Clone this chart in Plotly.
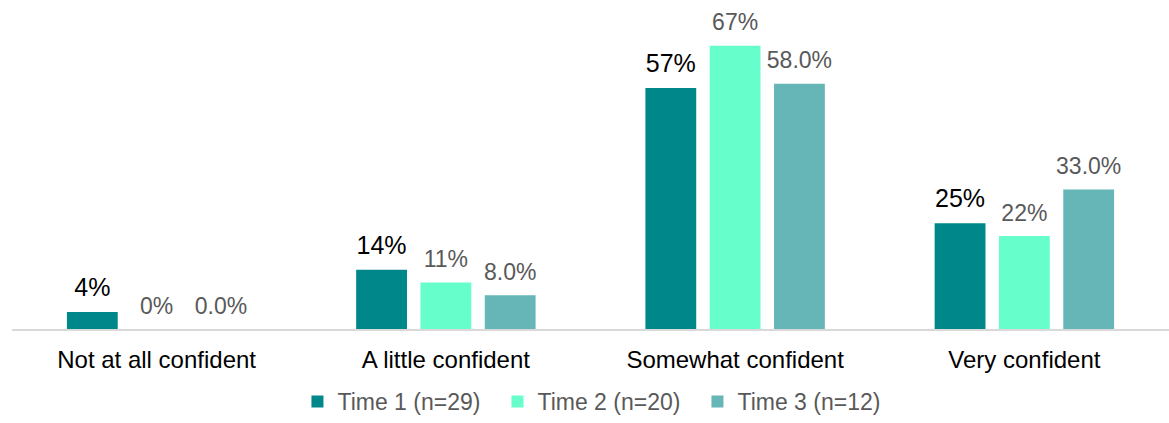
import plotly.graph_objects as go

categories = ["Not at all confident", "A little confident", "Somewhat confident", "Very confident"]
time1 = [4, 14, 57, 25]
time2 = [0, 11, 67, 22]
time3 = [0.0, 8.0, 58.0, 33.0]

FONT = "Liberation Sans, Arial, sans-serif"

series = [
    ("Time 1 (n=29)", time1, "#00878A", "%{y:.0f}%", "#000000", 25),
    ("Time 2 (n=20)", time2, "#66FFCC", "%{y:.0f}%", "#595959", 23),
    ("Time 3 (n=12)", time3, "#66B6B8", "%{y:.1f}%", "#595959", 23),
]

fig = go.Figure()
for i, (name, vals, color, tmpl, tcolor, tsize) in enumerate(series):
    fig.add_trace(go.Bar(
        name=name, x=categories, y=vals, offsetgroup=str(i),
        marker=dict(color=color, line=dict(width=0)),
    ))
# value labels, grouped like the bars and lifted a little above each bar top
for i, (name, vals, color, tmpl, tcolor, tsize) in enumerate(series):
    fig.add_trace(go.Scatter(
        x=categories, y=vals, offsetgroup=str(i),
        mode="markers+text", texttemplate=tmpl, textposition="top center",
        marker=dict(size=14, opacity=0),
        textfont=dict(family=FONT, size=tsize, color=tcolor),
        showlegend=False, hoverinfo="skip", cliponaxis=False,
    ))

fig.update_layout(
    width=1169, height=423,
    margin=dict(l=12, r=0, t=12, b=94, autoexpand=False),
    paper_bgcolor="white", plot_bgcolor="white",
    barmode="group", bargap=0.333, bargroupgap=0.21,
    scattermode="group", scattergap=0.333,
    font=dict(family=FONT),
    xaxis=dict(
        showline=True, linecolor="#D9D9D9", linewidth=2,
        tickfont=dict(size=24, color="#000000"),
        ticks="", showgrid=False, ticklabelstandoff=8,
    ),
    yaxis=dict(range=[0, 75], visible=False, showgrid=False, zeroline=False),
    legend=dict(
        orientation="h", x=0.506, xanchor="center", y=-0.2965, yanchor="bottom",
        font=dict(size=23, color="#595959"),
        entrywidth=155, entrywidthmode="pixels",
        itemsizing="constant", traceorder="normal",
    ),
    showlegend=True,
)

fig.write_html("out.html")
